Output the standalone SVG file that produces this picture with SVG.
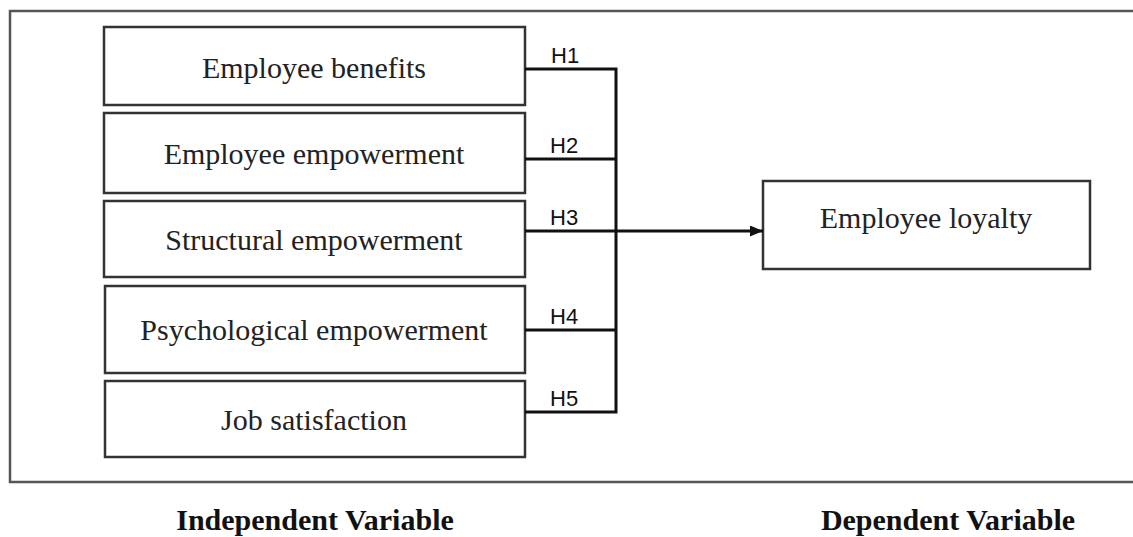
<svg xmlns="http://www.w3.org/2000/svg" width="1133" height="537" viewBox="0 0 1133 537">
<defs>
<style>
.box{fill:#fff;stroke:#333;stroke-width:2.5}
.lbl{font-family:"Liberation Serif","Times New Roman",serif;font-size:30px;fill:#222;text-anchor:middle}
.h{font-family:"Liberation Sans",Arial,sans-serif;font-size:22px;fill:#111}
.cap{font-family:"Liberation Serif","Times New Roman",serif;font-size:30px;font-weight:bold;fill:#111;text-anchor:middle}
.ln{fill:none;stroke:#111;stroke-width:3}
</style>
<marker id="arr" viewBox="0 0 13 11" refX="13" refY="5.5" markerWidth="13" markerHeight="11" orient="auto" markerUnits="userSpaceOnUse">
<path d="M0,0 L13,5.5 L0,11 z" fill="#111"/>
</marker>
</defs>
<rect width="1133" height="537" fill="#fff"/>
<path d="M1140,11 H10 V482 H1140" fill="none" stroke="#555" stroke-width="2.5"/>
<g id="n1"><rect class="box" x="104" y="27" width="421" height="78"/><text class="lbl" x="314" y="78">Employee benefits</text></g>
<g id="n2"><rect class="box" x="104" y="113" width="421" height="80"/><text class="lbl" x="314" y="164">Employee empowerment</text></g>
<g id="n3"><rect class="box" x="104" y="201" width="421" height="76"/><text class="lbl" x="314" y="250">Structural empowerment</text></g>
<g id="n4"><rect class="box" x="105" y="286" width="420" height="87"/><text class="lbl" x="314" y="340">Psychological empowerment</text></g>
<g id="n5"><rect class="box" x="105" y="381" width="420" height="76"/><text class="lbl" x="314" y="430">Job satisfaction</text></g>
<g id="n6"><rect class="box" x="763" y="181" width="327" height="88"/><text class="lbl" x="926" y="228">Employee loyalty</text></g>
<g id="connectors">
<path class="ln" d="M525,69 H616 M525,159 H616 M525,330 H616 M525,412 H616 M616,67.5 V413.5"/>
<path class="ln" d="M525,231 H763" marker-end="url(#arr)"/>
<text class="h" x="551" y="63">H1</text>
<text class="h" x="550" y="153">H2</text>
<text class="h" x="550" y="225">H3</text>
<text class="h" x="550" y="324">H4</text>
<text class="h" x="550" y="406">H5</text>
</g>
<text class="cap" x="315" y="530">Independent Variable</text>
<text class="cap" x="948" y="530">Dependent Variable</text>
</svg>
